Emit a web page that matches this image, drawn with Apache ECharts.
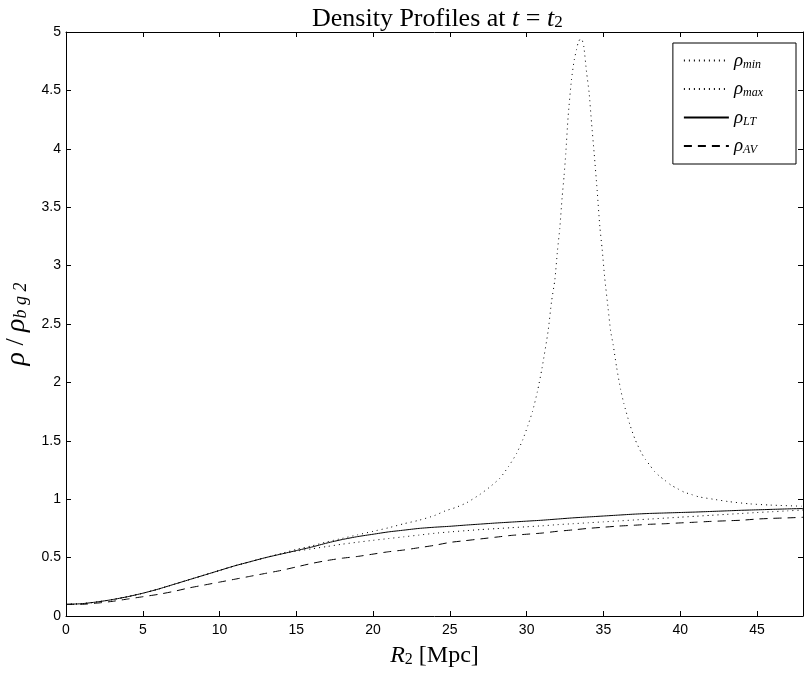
<!DOCTYPE html>
<html>
<head>
<meta charset="utf-8">
<script src="https://cdn.jsdelivr.net/npm/echarts@6/dist/echarts.min.js"></script>
<style>html,body{margin:0;padding:0;background:#fff}#c{width:804px;height:675px}</style>
</head>
<body>
<div id="c"></div>
<script>
var xs = [0,1,2,3,4,5,6,7,8,9,10,11,12,13,14,15,16,17,18,19,20,21,22,23,24,25,26,27,28,29,30,31,32,33,34,35,36,37,38,39,40,41,42,43,44,45,46,47,48];
var rhoLT = [0.10,0.105,0.12,0.14,0.165,0.195,0.23,0.27,0.31,0.35,0.39,0.43,0.465,0.50,0.53,0.56,0.59,0.625,0.655,0.68,0.70,0.72,0.735,0.75,0.76,0.768,0.778,0.787,0.796,0.804,0.812,0.82,0.83,0.84,0.848,0.856,0.864,0.872,0.878,0.882,0.886,0.89,0.895,0.90,0.905,0.909,0.913,0.917,0.92];
var rhoMin = [0.10,0.105,0.12,0.14,0.165,0.195,0.23,0.27,0.31,0.35,0.39,0.43,0.465,0.50,0.53,0.555,0.575,0.595,0.615,0.632,0.648,0.663,0.678,0.693,0.708,0.72,0.73,0.74,0.748,0.756,0.764,0.772,0.782,0.79,0.798,0.806,0.814,0.822,0.83,0.838,0.846,0.854,0.862,0.87,0.878,0.886,0.893,0.90,0.908];
var rhoAV = [0.10,0.10,0.11,0.125,0.145,0.165,0.185,0.21,0.24,0.265,0.29,0.315,0.34,0.365,0.39,0.42,0.45,0.475,0.495,0.51,0.53,0.55,0.565,0.585,0.605,0.63,0.645,0.66,0.675,0.69,0.70,0.71,0.725,0.737,0.75,0.76,0.77,0.777,0.785,0.79,0.797,0.803,0.81,0.815,0.82,0.83,0.836,0.84,0.845];
var xsMax = [0,1,2,3,4,5,6,7,8,9,10,11,12,13,14,15,16,17,18,19,20,21,22,23,24,24.7,25.4,26.1,26.95,27.56,28.26,28.82,29.34,29.75,30.08,30.38,30.7,31.0,31.4,31.62,31.84,32.01,32.16,32.31,32.44,32.55,32.7,32.92,33.1,33.25,33.36,33.5,33.62,33.73,33.9,34.07,34.23,34.4,34.59,34.77,34.92,35.09,35.31,35.47,35.64,35.86,36.12,36.33,36.72,37.07,37.46,37.74,38.03,38.31,38.63,39.02,39.41,39.83,40.26,40.74,41.22,42.15,43.13,44.54,45.84,47.91];
var rhoMax = [0.10,0.105,0.12,0.14,0.165,0.195,0.23,0.27,0.31,0.35,0.39,0.43,0.465,0.50,0.535,0.57,0.60,0.635,0.665,0.695,0.725,0.755,0.79,0.82,0.86,0.90,0.93,0.97,1.04,1.10,1.18,1.28,1.39,1.51,1.63,1.75,1.92,2.12,2.44,2.69,2.88,3.13,3.32,3.58,3.77,3.96,4.27,4.59,4.76,4.85,4.91,4.94,4.93,4.87,4.66,4.48,4.22,3.96,3.65,3.33,3.14,2.89,2.63,2.44,2.32,2.13,1.94,1.82,1.64,1.51,1.40,1.34,1.29,1.24,1.20,1.16,1.12,1.09,1.06,1.04,1.02,1.00,0.98,0.96,0.95,0.94];
var xTicks = [0,5,10,15,20,25,30,35,40,45];
var yTicks = [0,0.5,1,1.5,2,2.5,3,3.5,4,4.5,5];

function pairs(x, y){ return x.map(function(v,i){return [v, y[i]];}); }

var serif = 'Liberation Serif';
var sans = 'Liberation Sans';
var subs = {'ρmin':'min','ρmax':'max','ρLT':'LT','ρAV':'AV'};

var chart = echarts.init(document.getElementById('c'));
function axisCommon(){
  return {
    min: 0,
    axisLine: {onZero: false, lineStyle: {color: '#000', width: 1}},
    axisTick: {inside: true, length: 5, lineStyle: {color: '#000'}},
    splitLine: {show: false}
  };
}
chart.setOption({
  animation: false,
  backgroundColor: '#fff',
  title: {
    text: 'Density Profiles at {i|t} = {i|t}{s|2}',
    left: 307, top: 1,
    textStyle: {
      fontFamily: serif, fontSize: 26, fontWeight: 'normal', color: '#000',
      rich: {
        i: {fontFamily: serif, fontSize: 26, fontStyle: 'italic', color: '#000'},
        s: {fontFamily: serif, fontSize: 17, color: '#000', padding: [8,0,0,0]}
      }
    }
  },
  grid: {left: 66, right: 1, top: 32, bottom: 59, containLabel: false, outerBoundsMode: 'none'},
  legend: {
    right: 8, top: 43,
    orient: 'vertical', align: 'left',
    backgroundColor: '#fff', borderColor: '#000', borderWidth: 1,
    padding: [8, 33, 8, 10],
    itemWidth: 45, itemHeight: 10, itemGap: 9,
    itemStyle: {opacity: 0},
    data: ['ρmin','ρmax','ρLT','ρAV'],
    formatter: function(n){ return '{r|ρ}{s|' + subs[n] + '}'; },
    textStyle: {
      color: '#000',
      rich: {
        r: {fontFamily: serif, fontSize: 19, fontStyle: 'italic', color: '#000', height: 20},
        s: {fontFamily: serif, fontSize: 12, fontStyle: 'italic', color: '#000', padding: [8,0,0,0]}
      }
    }
  },
  xAxis: [
    Object.assign(axisCommon(), {
      type: 'value', max: 48, interval: 5,
      axisLabel: {color: '#000', fontFamily: sans, fontSize: 14, margin: 7,
        formatter: function(v){ return xTicks.indexOf(v) >= 0 ? String(v) : ''; }},
      name: '{i|R}{s|2} [Mpc]', nameLocation: 'middle', nameGap: 28,
      nameTextStyle: {fontFamily: serif, fontSize: 24, color: '#000',
        rich: {
          i: {fontFamily: serif, fontSize: 24, fontStyle: 'italic', color: '#000'},
          s: {fontFamily: serif, fontSize: 16, color: '#000', padding: [8,0,0,0]}
        }}
    }),
    Object.assign(axisCommon(), {
      type: 'value', max: 48, interval: 5, position: 'top',
      axisLabel: {show: false}
    })
  ],
  yAxis: [
    Object.assign(axisCommon(), {
      type: 'value', max: 5, interval: 0.5,
      axisLabel: {color: '#000', fontFamily: sans, fontSize: 14, margin: 5,
        formatter: function(v){ return String(yTicks[Math.round(v*2)]); }},
      name: '{i|ρ} / {i|ρ}{s|b g 2}', nameLocation: 'middle', nameGap: 30, nameRotate: 90,
      nameTextStyle: {fontFamily: serif, fontSize: 26, color: '#000',
        rich: {
          i: {fontFamily: serif, fontSize: 28, fontStyle: 'italic', color: '#000'},
          s: {fontFamily: serif, fontSize: 18, fontStyle: 'italic', color: '#000', padding: [10,0,0,0]}
        }}
    }),
    Object.assign(axisCommon(), {
      type: 'value', max: 5, interval: 0.5, position: 'right',
      axisLabel: {show: false}
    })
  ],
  series: [
    {name: 'ρmin', type: 'line', data: pairs(xs, rhoMin), showSymbol: false, symbol: 'none', smooth: 0.2,
      lineStyle: {color: '#000', width: 1, type: [1, 4]}, itemStyle: {color: '#000'}},
    {name: 'ρmax', type: 'line', data: pairs(xsMax, rhoMax), showSymbol: false, symbol: 'none', smooth: 0.2,
      lineStyle: {color: '#000', width: 1, type: [1, 4]}, itemStyle: {color: '#000'}},
    {name: 'ρLT', type: 'line', data: pairs(xs, rhoLT), showSymbol: false, symbol: 'none', smooth: 0.2,
      lineStyle: {color: '#000', width: 1, type: 'solid'}, itemStyle: {color: '#000'}},
    {name: 'ρAV', type: 'line', data: pairs(xs, rhoAV), showSymbol: false, symbol: 'none', smooth: 0.2,
      lineStyle: {color: '#000', width: 1, type: [8, 6]}, itemStyle: {color: '#000'}}
  ]
});
</script>
</body>
</html>
